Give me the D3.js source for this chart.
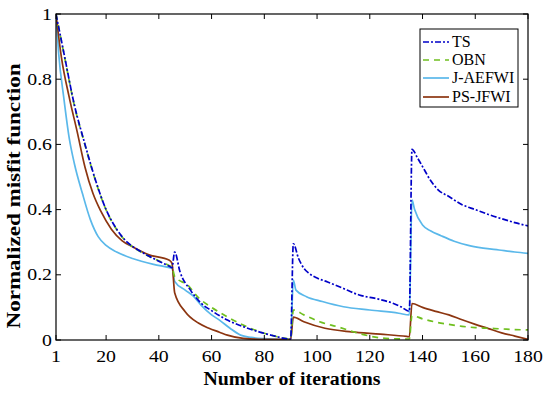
<!DOCTYPE html>
<html><head><meta charset="utf-8">
<script src="https://cdn.jsdelivr.net/npm/d3@7/dist/d3.min.js"></script>
<style>body{margin:0;background:#fff}svg{display:block}</style>
</head><body><svg id="c" width="550" height="397"></svg>
<script>
// ---- data ----
const xTicks = [1,20,40,60,80,100,120,140,160,180];
const yTicks = [0,0.2,0.4,0.6,0.8,1];
const yTickLabels = ["0","0.2","0.4","0.6","0.8","1"];
const seriesNames = ["TS","OBN","J-AEFWI","PS-JFWI"];

const tsIter = [1,4,8,12,16,20,24,28,32,38,44,45,46,48,52,56,60,66,72,78,84,88,90,91,93,95,97,100,104,110,116,123,129,132,135,136,138,140,143,146,150,155,160,165,170,175,180];
const tsVal  = [1,0.88,0.72,0.60,0.49,0.40,0.34,0.30,0.277,0.25,0.226,0.222,0.27,0.21,0.153,0.113,0.09,0.061,0.041,0.025,0.012,0.004,0.003,0.295,0.25,0.22,0.204,0.19,0.178,0.158,0.138,0.126,0.112,0.101,0.088,0.585,0.56,0.532,0.49,0.46,0.44,0.415,0.40,0.385,0.372,0.36,0.35];

const obnIter = [1,4,8,12,16,20,24,28,32,38,44,45,46,51,55,60,66,72,78,84,88,90,91,95,101,108,116,120,126,135,136,140,145,150,155,160,165,170,175,180];
const obnVal  = [1,0.878,0.718,0.598,0.488,0.399,0.339,0.299,0.276,0.25,0.228,0.224,0.195,0.168,0.13,0.1,0.071,0.046,0.026,0.012,0.005,0.003,0.092,0.077,0.056,0.04,0.02,0.012,0.005,0.003,0.075,0.065,0.055,0.048,0.042,0.038,0.036,0.034,0.032,0.031];

const jaIter = [1,2,4,6,8,11,14,17,20,24,30,38,44,45,46,50,53,56,60,63,67,71,75,80,85,90,91,92,96,102,110,120,131,135,136,137,140,143,147,152,157,163,169,175,180];
const jaVal  = [1,0.88,0.74,0.62,0.54,0.45,0.37,0.317,0.29,0.27,0.25,0.232,0.222,0.22,0.18,0.153,0.135,0.107,0.077,0.061,0.036,0.015,0.008,0.004,0.002,0.002,0.184,0.153,0.133,0.118,0.102,0.092,0.082,0.077,0.43,0.40,0.353,0.335,0.32,0.303,0.291,0.282,0.276,0.27,0.266];

const psIter = [1,3,6,9,12,15,18,22,26,30,36,44,45,46,50,55,59,63,66,72,80,90,91,95,103,113,124,134,135,136,140,145,150,155,160,165,170,175,180];
const psVal  = [1,0.87,0.745,0.64,0.53,0.45,0.395,0.34,0.305,0.286,0.262,0.245,0.235,0.145,0.087,0.052,0.036,0.024,0.015,0.005,0.002,0.002,0.07,0.056,0.036,0.025,0.018,0.011,0.01,0.112,0.1,0.088,0.077,0.062,0.048,0.035,0.022,0.012,0.002];

// ---- layout ----
const svg = d3.select("#c");
const L = 56, R = 528, T = 14, B = 340;
const x = d3.scaleLinear().domain([1,180]).range([L,R]);
const y = d3.scaleLinear().domain([0,1]).range([B,T]);
const FONT = '"Liberation Serif", "Times New Roman", serif';

const series = [
  {name:seriesNames[0], it:tsIter, v:tsVal, color:"#0000c8", w:1.7, dash:"6,2,2,2"},
  {name:seriesNames[1], it:obnIter, v:obnVal, color:"#6fbf1f", w:1.7, dash:"6,5"},
  {name:seriesNames[2], it:jaIter, v:jaVal, color:"#5ab8ea", w:1.7, dash:null},
  {name:seriesNames[3], it:psIter, v:psVal, color:"#8c3510", w:1.7, dash:null}
];

const line = d3.line().x(d=>x(d[0])).y(d=>y(d[1])).curve(d3.curveMonotoneX);
const g = svg.append("g");
g.append("defs").append("clipPath").attr("id","clp").append("rect")
  .attr("x",L).attr("y",T-2).attr("width",R-L).attr("height",B-T+2);

[2,3,1,0].forEach(i=>{
  const s = series[i];
  g.append("path").datum(s.it.map((t,k)=>[t,s.v[k]]))
    .attr("d",line).attr("fill","none").attr("stroke",s.color)
    .attr("stroke-width",s.w).attr("stroke-dasharray",s.dash)
    .attr("stroke-linejoin","round").attr("clip-path","url(#clp)");
});

function txt(sel, size, bold){
  return sel.append("text").style("font-family",FONT).style("font-size",size+"px")
    .style("font-weight",bold?"bold":"normal").attr("fill","#000");
}

// axes (ticks inside, box)
const ax = svg.append("g");
const tl = 5;
xTicks.forEach(t=>{
  ax.append("line").attr("x1",x(t)).attr("x2",x(t)).attr("y1",B).attr("y2",B-tl).attr("stroke","#000");
  ax.append("line").attr("x1",x(t)).attr("x2",x(t)).attr("y1",T).attr("y2",T+tl).attr("stroke","#000");
  txt(ax,16.5,false).attr("transform",`translate(${x(t)},${B+22}) scale(1.2,1)`)
    .attr("text-anchor","middle").text(t);
});
yTicks.forEach((t,i)=>{
  ax.append("line").attr("x1",L).attr("x2",L+tl).attr("y1",y(t)).attr("y2",y(t)).attr("stroke","#000");
  ax.append("line").attr("x1",R).attr("x2",R-tl).attr("y1",y(t)).attr("y2",y(t)).attr("stroke","#000");
  txt(ax,16.5,false).attr("transform",`translate(${L-4},${y(t)+5.5}) scale(1.2,1)`)
    .attr("text-anchor","end").text(yTickLabels[i]);
});
ax.append("rect").attr("x",L).attr("y",T).attr("width",R-L).attr("height",B-T)
  .attr("fill","none").attr("stroke","#000").attr("stroke-width",1.2);

txt(ax,18,true).attr("x",292).attr("y",385).attr("text-anchor","middle")
  .attr("textLength",177).attr("lengthAdjust","spacingAndGlyphs").text("Number of iterations");
txt(ax,19,true).attr("transform",`translate(20,196) rotate(-90)`).attr("text-anchor","middle")
  .attr("textLength",265).attr("lengthAdjust","spacingAndGlyphs").text("Normalized misfit function");

// legend
const lg = svg.append("g");
lg.append("rect").attr("x",420).attr("y",29).attr("width",98).attr("height",78)
  .attr("fill","#fff").attr("stroke","#000").attr("stroke-width",1);
const ly = [42,60,78,97];
series.forEach((s,i)=>{
  lg.append("line").attr("x1",423).attr("x2",449).attr("y1",ly[i]).attr("y2",ly[i])
    .attr("stroke",s.color).attr("stroke-width",s.w).attr("stroke-dasharray",s.dash);
  txt(lg,16,false).attr("x",452).attr("y",ly[i]+5).text(s.name);
});
</script></body></html>
